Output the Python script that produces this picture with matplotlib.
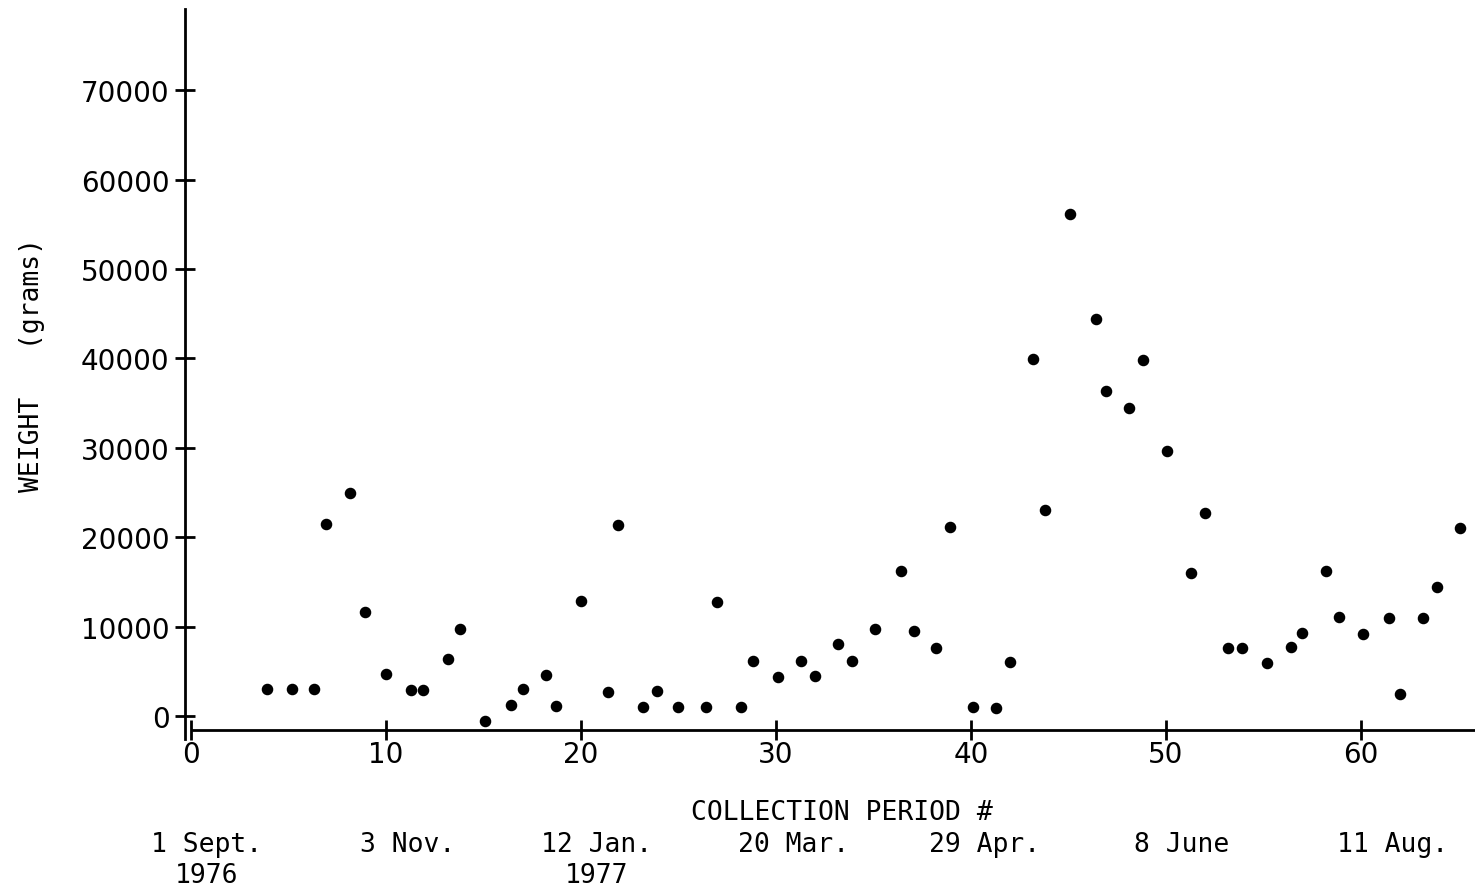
import matplotlib.pyplot as plt
import matplotlib.transforms as mtransforms

# collection period # and weight (grams)
periodo = [3.9, 5.2, 6.3, 6.9, 8.15, 8.9, 10.0, 11.3, 11.9, 13.2, 13.8, 15.1,
           16.4, 17.0, 18.2, 18.7, 20.0, 21.4, 21.9, 23.2, 23.9, 25.0, 26.4,
           27.0, 28.2, 28.8, 30.1, 31.3, 32.0, 33.2, 33.9, 35.1, 36.4, 37.1,
           38.2, 38.9, 40.1, 41.3, 42.0, 43.2, 43.8, 45.1, 46.4, 46.9, 48.1,
           48.8, 50.05, 51.3, 52.0, 53.2, 53.9, 55.2, 56.4, 57.0, 58.2, 58.9,
           60.1, 61.45, 62.0, 63.2, 63.9, 65.1]
peso = [3000, 3000, 3000, 21500, 24900, 11600, 4700, 2900, 2900, 6400, 9700,
        -600, 1200, 3000, 4600, 1100, 12900, 2700, 21400, 1000, 2800, 1000,
        1000, 12700, 1000, 6100, 4400, 6100, 4500, 8000, 6100, 9700, 16200,
        9500, 7600, 21100, 1000, 950, 6000, 39900, 23000, 56100, 44400, 36300,
        34400, 39800, 29600, 16000, 22700, 7600, 7600, 5900, 7700, 9300, 16200,
        11100, 9200, 11000, 2500, 11000, 14400, 21000]

ticks_y = [0, 10000, 20000, 30000, 40000, 50000, 60000, 70000]
ticks_x = [0, 10, 20, 30, 40, 50, 60]
fechas = ["1 Sept.\n1976", "3 Nov.", "12 Jan.\n1977", "20 Mar.", "29 Apr.",
          "8 June", "11 Aug."]
pos_fechas = [0.8, 11.1, 20.8, 30.9, 40.7, 50.8, 61.6]

fig = plt.figure(figsize=(14.75, 8.95), dpi=100)
ax = fig.add_axes([185 / 1475, 1 - 740 / 895, 1 - 185 / 1475, 730 / 895])

ax.plot(periodo, peso, "o", color="black", ms=7.3)

ax.set_xlim(-0.31, 65.85)
ax.set_ylim(-2570, 79080)

ax.spines["top"].set_visible(False)
ax.spines["right"].set_visible(False)
ax.spines["left"].set_linewidth(2)
ax.spines["bottom"].set_linewidth(2)
ax.spines["bottom"].set_position(("data", -1570))
ax.spines["bottom"].set_bounds(0.1, 65.85)

ax.set_yticks(ticks_y)
ax.set_xticks(ticks_x)
ax.tick_params(axis="both", direction="inout", length=14, width=2,
               labelsize=20, colors="black")
ax.tick_params(axis="y", pad=4)
ax.tick_params(axis="x", pad=0)

# dates under the collection periods
trans = mtransforms.blended_transform_factory(ax.transData, fig.transFigure)
for x, txt in zip(pos_fechas, fechas):
    fig.text(x, 1 - 832 / 895, txt, transform=trans, ha="center", va="top",
             family="DejaVu Sans Mono", fontsize=19, linespacing=1.25)

fig.text(842 / 1475, 1 - 813 / 895, "COLLECTION PERIOD #", ha="center",
         va="center", family="DejaVu Sans Mono", fontsize=19)
fig.text(32 / 1475, 1 - 365 / 895, "WEIGHT   (grams)", ha="center",
         va="center", rotation=90, family="DejaVu Sans Mono", fontsize=19)

plt.savefig("out.png", dpi=100)
